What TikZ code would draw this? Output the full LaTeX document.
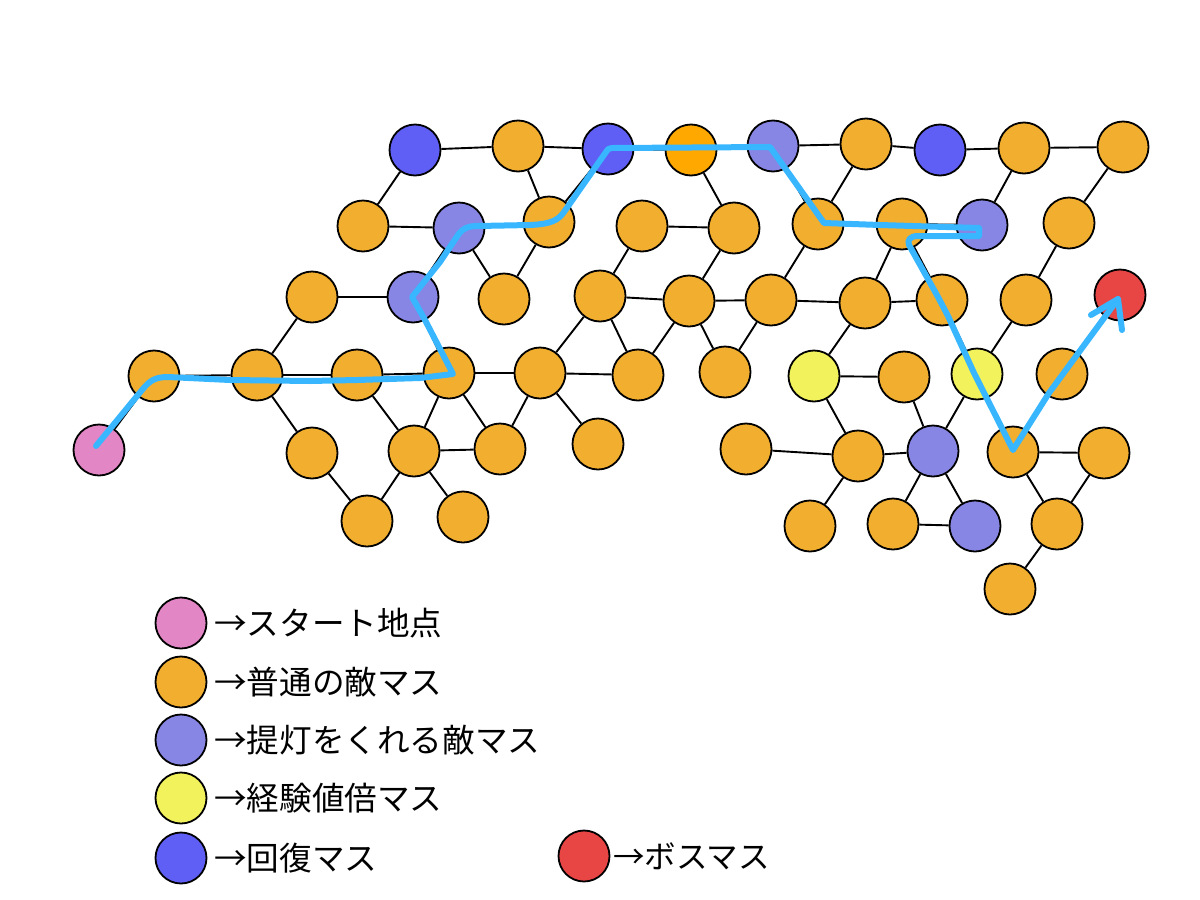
\documentclass[tikz,border=0pt]{standalone}
\usepackage{fontspec}
\setmainfont{Noto Sans CJK JP}
\begin{document}
\begin{tikzpicture}[x=1pt,y=-1pt,
  sq/.style={circle,draw=black,line width=1.8pt,minimum size=51pt,inner sep=0pt},
  en/.style={sq,fill=cEn},
  ro/.style={sq,fill=cRo},
  la/.style={sq,fill=cLa},
  he/.style={sq,fill=cHe},
  xp/.style={sq,fill=cXp},
  st/.style={sq,fill=cSt},
  bo/.style={sq,fill=cBo},
  ln/.style={draw=black,line width=1.9pt},
  route/.style={draw=cPath,line width=6pt,line cap=round,line join=round},
  legtext/.style={anchor=west,inner sep=0pt,font=\fontsize{32.6}{33}\selectfont},
  bosstext/.style={anchor=west,inner sep=0pt,font=\fontsize{31.5}{33}\selectfont}]
\definecolor{cEn}{HTML}{F2AE2E}
\definecolor{cRo}{HTML}{FFA900}
\definecolor{cLa}{HTML}{8886E4}
\definecolor{cHe}{HTML}{5F5FF5}
\definecolor{cXp}{HTML}{F2F25C}
\definecolor{cSt}{HTML}{E286C6}
\definecolor{cBo}{HTML}{E84545}
\definecolor{cPath}{HTML}{38B6FF}
\useasboundingbox (0,0) rectangle (1200,900);
\fill[white] (0,0) rectangle (1200,900);
% row 1
\node[he] (a1) at (415,150) {};
\node[en] (a2) at (518,146) {};
\node[he] (a3) at (608,149) {};
\node[ro] (a4) at (691,150) {};
\node[la] (a5) at (773,146) {};
\node[en] (a6) at (866,144) {};
\node[he] (a7) at (940,150) {};
\node[en] (a8) at (1024,148) {};
\node[en] (a9) at (1123,147) {};
% row 2
\node[en] (b1) at (363,226) {};
\node[la] (b2) at (459,228) {};
\node[en] (b3) at (549,222) {};
\node[en] (b4) at (642,226) {};
\node[en] (b5) at (734,228) {};
\node[en] (b6) at (818,224) {};
\node[en] (b7) at (902,224) {};
\node[la] (b8) at (982,225) {};
\node[en] (b9) at (1069,223) {};
% row 3
\node[en] (c1) at (312,297) {};
\node[la] (c2) at (413,297) {};
\node[en] (c3) at (504,299) {};
\node[en] (c4) at (600,296) {};
\node[en] (c5) at (689,301) {};
\node[en] (c6) at (771,300) {};
\node[en] (c7) at (865,303) {};
\node[en] (c8) at (942,300) {};
\node[en] (c9) at (1026,300) {};
\node[bo] (c10) at (1120,295) {};
% row 4
\node[en] (d1) at (154,376) {};
\node[en] (d2) at (257,375) {};
\node[en] (d3) at (357,375) {};
\node[en] (d4) at (449,373) {};
\node[en] (d5) at (540,373) {};
\node[en] (d6) at (638,375) {};
\node[en] (d7) at (725,372) {};
\node[xp] (d8) at (814,376) {};
\node[en] (d9) at (904,377) {};
\node[xp] (d10) at (977,374) {};
\node[en] (d11) at (1062,374) {};
% row 5
\node[st] (e0) at (99,450) {};
\node[en] (e1) at (312,453) {};
\node[en] (e2) at (414,451) {};
\node[en] (e3) at (500,449) {};
\node[en] (e4) at (598,444) {};
\node[en] (e5) at (746,449) {};
\node[en] (e6) at (858,456) {};
\node[la] (e7) at (933,451) {};
\node[en] (e8) at (1013,452) {};
\node[en] (e9) at (1104,453) {};
% row 6 and 7
\node[en] (f1) at (367,521) {};
\node[en] (f2) at (463,517) {};
\node[en] (f3) at (810,526) {};
\node[en] (f4) at (893,524) {};
\node[la] (f5) at (975,526) {};
\node[en] (f6) at (1057,524) {};
\node[en] (g1) at (1010,589) {};
% connectors
\foreach \p/\q in {a1/a2,a2/a3,a3/a4,a4/a5,a5/a6,a6/a7,a7/a8,a8/a9,
  a1/b1,a2/b3,a3/b3,a4/b5,a5/b6,a6/b6,a8/b8,a9/b9,
  b1/b2,b2/b3,b4/b5,b6/b7,b7/b8,
  b2/c2,b2/c3,b3/c3,b4/c4,b5/c5,b6/c6,b7/c7,b7/c8,b9/c9,
  c1/c2,c4/c5,c5/c6,c6/c7,c7/c8,
  c1/d2,c2/d4,c4/d5,c4/d6,c5/d6,c5/d7,c6/d7,c7/d8,c8/d10,c9/d10,
  d1/d2,d2/d3,d3/d4,d4/d5,d5/d6,d8/d9,
  d2/e1,d3/e2,d4/e2,d4/e3,d5/e3,d5/e4,d8/e6,d9/e7,d10/e7,
  e0/d1,e2/e3,e5/e6,e6/e7,e8/e9,
  e1/f1,e2/f1,e2/f2,e6/f3,e7/f4,e7/f5,e8/f6,e9/f6,f4/f5,f6/g1}
  {\draw[ln] (\p) -- (\q);}
% walked route with arrow
\coordinate (rs) at (96,446);
\coordinate (rt) at (1118,299);
\coordinate (rl) at (1091,315);
\coordinate (rr) at (1122,330);
\draw[route] (rs) -- (142,390) .. controls (150,380) and (156,377) .. (168,377)
  -- (230,380) -- (310,381) -- (357,380) -- (420,378) -- (453,374)
  -- (425,320) -- (412,297) -- (440,262) -- (456,238)
  .. controls (462,228) and (468,226) .. (478,226) -- (530,225)
  .. controls (552,224) and (558,220) .. (564,212)
  -- (606,152) .. controls (608,149) and (609,148) .. (612,148)
  -- (770,147) -- (824,223) -- (880,225) -- (979,228) -- (979,236) -- (918,236)
  .. controls (910,236) and (907,240) .. (909,245)
  -- (938,297) -- (948,316) -- (974,373) -- (1013,450) -- (1049,393) -- (rt);
\draw[route] (rl) -- (rt) -- (rr);
% legend
\node[st] (k1) at (181,623) {};
\node[en] (k2) at (181,682) {};
\node[la] (k3) at (181,740) {};
\node[xp] (k4) at (181,798) {};
\node[he] (k5) at (181,858) {};
\node[bo] (k6) at (584,856) {};
\node[legtext] (t1) at (214,623) {→スタート地点};
\node[legtext] (t2) at (214,682) {→普通の敵マス};
\node[legtext] (t3) at (214,740) {→提灯をくれる敵マス};
\node[legtext] (t4) at (214,798) {→経験値倍マス};
\node[legtext] (t5) at (214,858) {→回復マス};
\node[bosstext] (t6) at (613,856) {→ボスマス};
\end{tikzpicture}
\end{document}
